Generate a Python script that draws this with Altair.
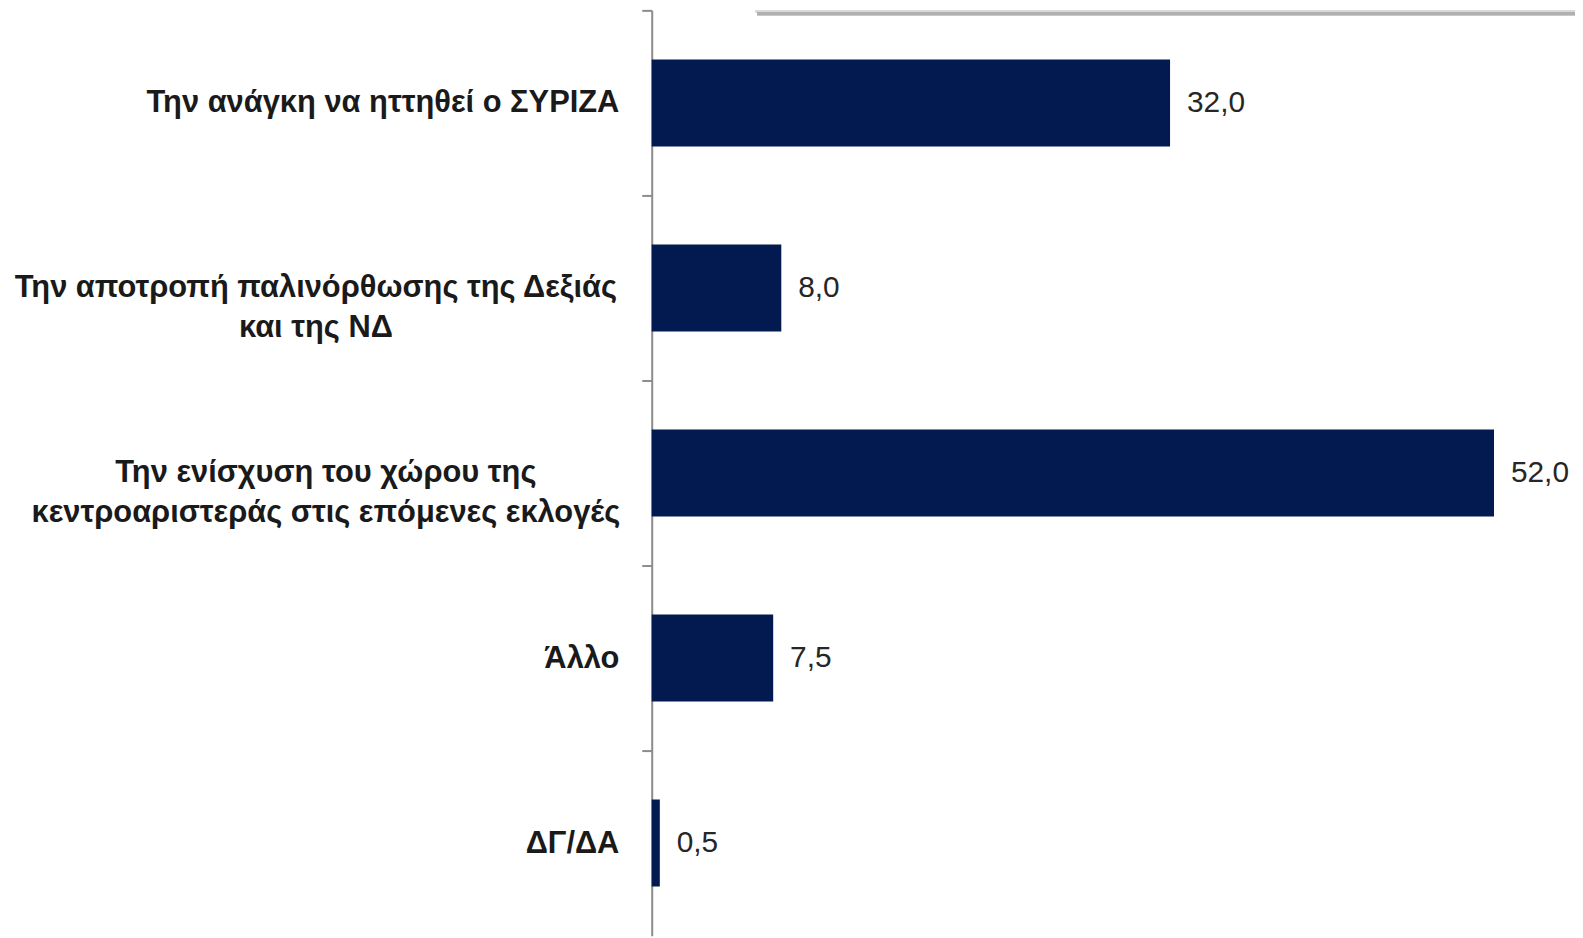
import altair as alt
import pandas as pd

categories = [
    "Την ανάγκη να ηττηθεί ο ΣΥΡΙΖΑ",
    "Την αποτροπή παλινόρθωσης της Δεξιάς|και της ΝΔ",
    "Την ενίσχυση του χώρου της|κεντροαριστεράς στις επόμενες εκλογές",
    "Άλλο",
    "ΔΓ/ΔΑ",
]
values = [32.0, 8.0, 52.0, 7.5, 0.5]
value_labels = ["32,0", "8,0", "52,0", "7,5", "0,5"]

df = pd.DataFrame({"cat": categories, "val": values, "lab": value_labels})

W = 928
H = 930
FONT = "Liberation Sans, Arial, sans-serif"
NAVY = "#021a4f"
PAD_IN = 0.53

y_scale = alt.Scale(domain=categories, paddingInner=PAD_IN, paddingOuter=PAD_IN / 2)

y_enc = alt.Y(
    "cat:N",
    sort=categories,
    title=None,
    scale=y_scale,
    axis=alt.Axis(
        domainColor="#8c8c8c",
        domainWidth=2,
        tickColor="#8c8c8c",
        tickWidth=2,
        tickSize=10,
        tickOffset=-H / 10,
        labelOffset=H / 10,
        labelFont=FONT,
        labelFontSize=31,
        labelFontWeight="bold",
        labelColor="#1a1a1a",
        labelLimit=0,
        labelLineHeight=40,
        labelExpr="split(datum.label, '|')",
        labelAlign={
            "condition": {"test": "indexof(datum.value, '|') >= 0", "value": "center"},
            "value": "right",
        },
        labelPadding={
            "condition": [
                {"test": f"datum.value === '{categories[1]}'", "value": 328},
                {"test": f"datum.value === '{categories[2]}'", "value": 318},
            ],
            "value": 23,
        },
    ),
)

x_enc = alt.X("val:Q", scale=alt.Scale(domain=[0, 57.0], nice=False), axis=None)

bars = alt.Chart(df).mark_bar(color=NAVY).encode(x=x_enc, y=y_enc)

text = alt.Chart(df).mark_text(
    align="left", baseline="middle", dx=17, font=FONT, fontSize=30, color="#262626"
).encode(x=x_enc, y=alt.Y("cat:N", sort=categories, scale=y_scale), text="lab:N")

box = alt.Chart(df).mark_rect(color="#d9d9d9").encode(
    x=alt.value(104), x2=alt.value(W + 10), y=alt.value(0), y2=alt.value(2)
)
shadow = alt.Chart(df).mark_rule(color="#b0b0b0", strokeWidth=3, opacity=0.8).encode(
    x=alt.value(106), x2=alt.value(W + 10), y=alt.value(3.5)
)

chart = (
    alt.layer(box, shadow, bars, text)
    .properties(
        width=W,
        height=H,
        autosize=alt.AutoSizeParams(type="none"),
        padding={"left": 647, "top": 0, "right": 0, "bottom": 0},
    )
    .configure_view(stroke=None)
)

chart.save("out.html", embed_options={"renderer": "svg", "actions": False})
